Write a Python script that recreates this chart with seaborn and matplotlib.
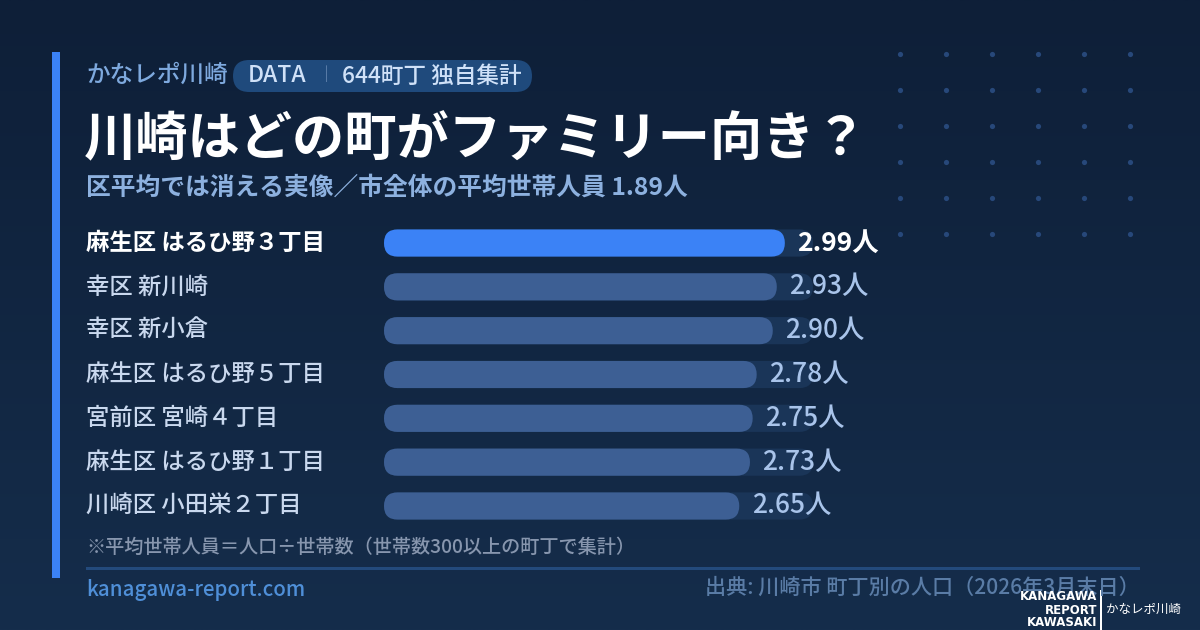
import numpy as np
import pandas as pd
import matplotlib
matplotlib.use("Agg")
import matplotlib.pyplot as plt
import matplotlib.transforms as mtransforms
from matplotlib.patches import FancyBboxPatch, Rectangle
import seaborn as sns

# ---- data ----
towns = ["麻生区 はるひ野３丁目", "幸区 新川崎", "幸区 新小倉", "麻生区 はるひ野５丁目",
         "宮前区 宮崎４丁目", "麻生区 はるひ野１丁目", "川崎区 小田栄２丁目"]
avg_size = [2.99, 2.93, 2.90, 2.78, 2.75, 2.73, 2.65]
value_unit = "人"
track_max = 3.2
title = "川崎はどの町がファミリー向き？"
subtitle = "区平均では消える実像／市全体の平均世帯人員 1.89人"
brand = "かなレポ川崎"
pill_tag = "DATA"
pill_text = "644町丁 独自集計"
note = "※平均世帯人員＝人口÷世帯数（世帯数300以上の町丁で集計）"
site = "kanagawa-report.com"
source = "出典: 川崎市 町丁別の人口（2026年3月末日）"
logo_lines = ["KANAGAWA", "REPORT", "KAWASAKI"]

sns.set_theme(style="white")
FONT = ["Noto Sans CJK JP", "DejaVu Sans"]
plt.rcParams["font.family"] = FONT

W, H = 1200, 630
fig = plt.figure(figsize=(W / 100, H / 100), dpi=100)

def fx(px):
    return px / W

def fy(py):
    return 1 - py / H

# background gradient
bg = fig.add_axes([0, 0, 1, 1], zorder=-10)
top = np.array([0x0e, 0x1f, 0x38]) / 255
bot = np.array([0x15, 0x2d, 0x4b]) / 255
t = np.linspace(0, 1, 256)[:, None]
grad = top[None, :] * (1 - t) + bot[None, :] * t
bg.imshow(grad[:, None, :].repeat(2, axis=1), aspect="auto", extent=[0, 1, 0, 1], origin="upper")
bg.set_xlim(0, 1)
bg.set_ylim(0, 1)
bg.axis("off")

# dot grid (decoration)
gx, gy = np.meshgrid([fx(900 + 46 * i) for i in range(6)], [fy(54 + 36 * j) for j in range(6)])
bg.scatter(gx.ravel(), gy.ravel(), s=14, color="#27487a", linewidths=0, zorder=1)

# left accent bar
bg.add_patch(Rectangle((fx(52), fy(578)), fx(8), (578 - 52) / H, color="#3b82f6", lw=0))

# ---- chart axes ----
ax_left, ax_right = 384, 813
ax_top, ax_bot = 221.1, 527.9
ax = fig.add_axes([fx(ax_left), fy(ax_bot), (ax_right - ax_left) / W, (ax_bot - ax_top) / H])
ax.patch.set_alpha(0)

df = pd.DataFrame({"town": towns, "size": avg_size})
palette = ["#3b82f6"] + ["#3d5f94"] * (len(towns) - 1)
sns.barplot(data=df, y="town", x="size", hue="town", palette=palette, legend=False,
            orient="h", width=0.62, saturation=1, ax=ax)
ax.set_xlim(0, track_max)
ax.set_ylim(len(towns) - 0.5, -0.5)
ax.axis("off")

# rounded bars: replace seaborn rectangles with rounded boxes of the same geometry
px_x = track_max / (ax_right - ax_left)
px_y = len(towns) / (ax_bot - ax_top)
aspect = px_y / px_x
bars = list(ax.patches)
for b in bars:
    x0, y0 = b.get_x(), b.get_y()
    w, h = b.get_width(), b.get_height()
    col = b.get_facecolor()
    b.set_visible(False)
    r = (h / 2) / aspect
    # track
    ax.add_patch(FancyBboxPatch((0, y0), track_max, h,
                                boxstyle=f"round,pad=0,rounding_size={r}",
                                mutation_aspect=aspect, fc="#1a3558", ec="none", zorder=1))
    ax.add_patch(FancyBboxPatch((x0, y0), w, h,
                                boxstyle=f"round,pad=0,rounding_size={r}",
                                mutation_aspect=aspect, fc=col, ec="none", zorder=2))

# value labels & town labels
lab_tf = mtransforms.blended_transform_factory(fig.transFigure, ax.transData)
for i, (tname, v) in enumerate(zip(towns, avg_size)):
    first = i == 0
    ax.annotate(f"{v:.2f}{value_unit}", xy=(v, i), xytext=(9, 0), textcoords="offset points",
                ha="left", va="center", fontsize=19,
                color="white" if first else "#a9c4ea",
                fontweight="bold" if first else "medium", zorder=5)
    ax.text(fx(86), i, tname, transform=lab_tf, ha="left", va="center", fontsize=16.8,
            color="white" if first else "#c9d8ee",
            fontweight="bold" if first else "medium")

# ---- header ----
fig.text(fx(86), fy(75), brand, ha="left", va="center", fontsize=17, color="#7ea9de",
         fontweight="medium")
bg.add_patch(FancyBboxPatch((fx(233), fy(92)), fx(532 - 233), (92 - 60) / H,
                            boxstyle="round,pad=0,rounding_size=0.0135",
                            mutation_aspect=W / H, transform=bg.transAxes,
                            fc="#1f4a7c", ec="none"))
fig.text(fx(248), fy(76), pill_tag, ha="left", va="center", fontsize=16.5, color="#cfe1f8",
         fontweight="medium")
fig.text(fx(326), fy(76), "｜", ha="center", va="center", fontsize=12, color="#6f8fb8")
fig.text(fx(342), fy(76), pill_text, ha="left", va="center", fontsize=16.3, color="#cfe1f8",
         fontweight="medium")

fig.text(fx(84), fy(140), title, ha="left", va="center", fontsize=37.6, color="white",
         fontweight="bold")
fig.text(fx(86), fy(188), subtitle, ha="left", va="center", fontsize=17.8, color="#8db1df",
         fontweight="bold")

# ---- footer ----
fig.text(fx(86), fy(547), note, ha="left", va="center", fontsize=13.8, color="#8796ae",
         fontweight="medium")
bg.add_patch(Rectangle((fx(86), fy(569.5)), fx(1140 - 86), 3 / H, color="#234a7c", lw=0))
fig.text(fx(86), fy(590), site, ha="left", va="center", fontsize=14.8, color="#4f8fd8",
         fontweight="medium")
fig.text(fx(1140), fy(588), source, ha="right", va="center", fontsize=15.2, color="#5a7ca6",
         fontweight="medium")

# logo
for k, line in enumerate(logo_lines):
    fig.text(fx(1097), fy(597 + 13 * k), line, ha="right", va="center", fontsize=8.5,
             color="white", fontweight="bold", family=["DejaVu Sans"])
bg.add_patch(Rectangle((fx(1099.5), fy(630)), 2 / W, 40 / H, color="white", lw=0))
fig.text(fx(1106), fy(609), brand, ha="left", va="center", fontsize=9, color="white")

fig.savefig("out.png", dpi=100)
